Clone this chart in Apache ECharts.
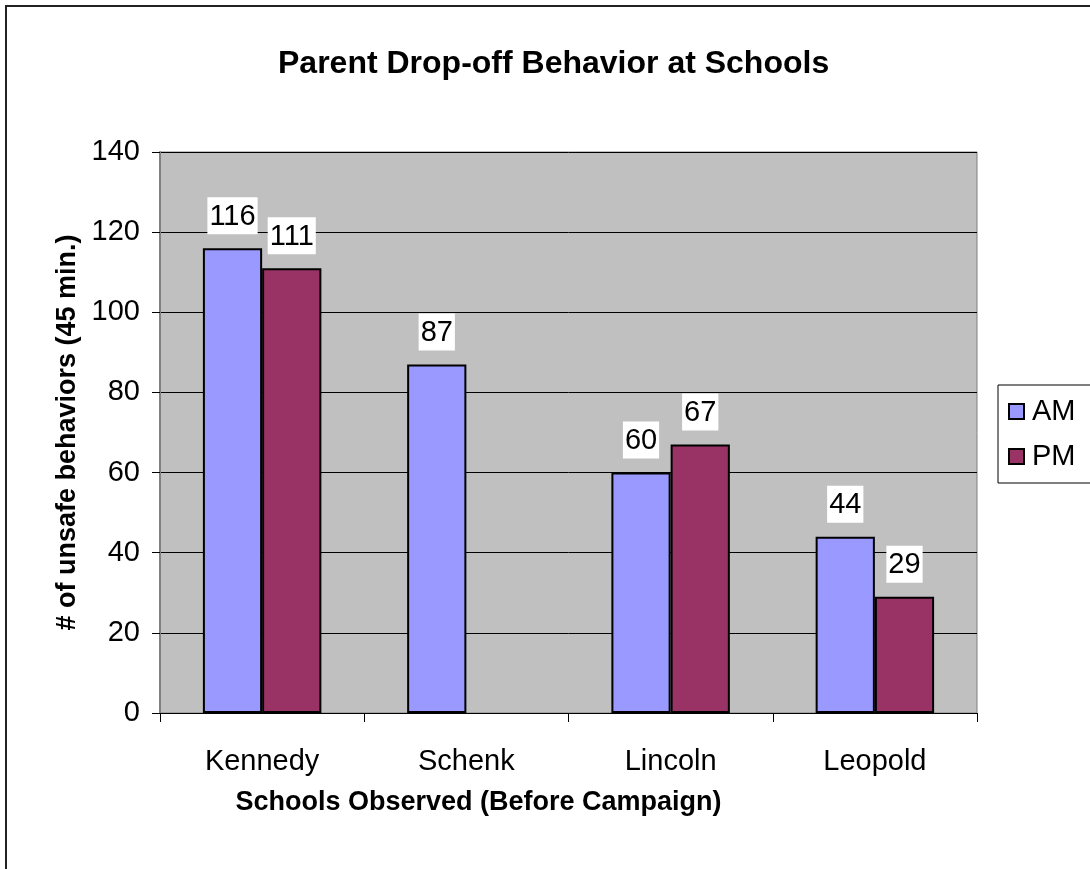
<!DOCTYPE html>
<html>
<head>
<meta charset="utf-8">
<script src="https://cdn.jsdelivr.net/npm/echarts@6/dist/echarts.min.js"></script>
<style>
html,body{margin:0;padding:0;background:#fff;}
#main{width:1090px;height:869px;}
</style>
</head>
<body>
<div id="main"></div>
<script>
var categories = ['Kennedy', 'Schenk', 'Lincoln', 'Leopold'];
var amValues = [116, 87, 60, 44];
var pmValues = [111, null, 67, 29];
var seriesNames = ['AM', 'PM'];
var titleText = 'Parent Drop-off Behavior at Schools';
var xAxisTitle = 'Schools Observed (Before Campaign)';
var yAxisTitle = '# of unsafe behaviors (45 min.)';

var chart = echarts.init(document.getElementById('main'));
var font = 'Arial, "Liberation Sans", sans-serif';
var labelStyle = {
  show: true, position: 'top', distance: 14,
  color: '#000', fontSize: 29, fontFamily: font,
  backgroundColor: '#fff', padding: [5, 2, 3, 2]
};
chart.setOption({
  animation: false,
  backgroundColor: '#fff',
  graphic: [{
    type: 'rect', shape: {x: 6, y: 6, width: 1200, height: 1000},
    style: {fill: 'none', stroke: '#222', lineWidth: 2}, z: 100
  }],
  title: {
    text: titleText, left: 273, top: 43,
    textStyle: {fontSize: 32, fontWeight: 'bold', color: '#000', fontFamily: font}
  },
  legend: {
    data: seriesNames, orient: 'vertical', left: 998, top: 385,
    padding: [12, 120, 12, 10], itemGap: 16,
    itemWidth: 15, itemHeight: 15, icon: 'rect',
    borderColor: '#000', borderWidth: 1, borderRadius: 0,
    textStyle: {fontSize: 29, color: '#000', fontFamily: font, padding: [0, 0, 0, 3]}
  },
  grid: {
    left: 160, top: 152, right: 113, bottom: 156,
    show: true, backgroundColor: '#C0C0C0', borderColor: '#808080', borderWidth: 1
  },
  xAxis: {
    type: 'category', data: categories,
    name: xAxisTitle, nameLocation: 'middle', nameGap: 76,
    nameTextStyle: {fontSize: 27, fontWeight: 'bold', color: '#000', fontFamily: font,
      padding: [0, 180, 0, 0]},
    axisLine: {lineStyle: {color: '#000', width: 1}},
    axisTick: {show: true, length: 9, lineStyle: {color: '#000'}},
    axisLabel: {fontSize: 29, color: '#000', fontFamily: font, margin: 34}
  },
  yAxis: {
    type: 'value', min: 0, max: 140, interval: 20,
    name: yAxisTitle, nameLocation: 'middle', nameGap: 50,
    nameTextStyle: {fontSize: 27, fontWeight: 'bold', color: '#000', fontFamily: font},
    axisLine: {show: true, lineStyle: {color: '#808080', width: 2}},
    axisTick: {show: true, length: 8, lineStyle: {color: '#000'}},
    axisLabel: {fontSize: 29, color: '#000', fontFamily: font, margin: 20},
    splitLine: {show: true, lineStyle: {color: '#000', width: 1}}
  },
  series: [{
    name: seriesNames[0], type: 'bar', data: amValues,
    barGap: '0%', barCategoryGap: '42%',
    itemStyle: {color: '#9999FF', borderColor: '#000', borderWidth: 2},
    label: labelStyle
  }, {
    name: seriesNames[1], type: 'bar', data: pmValues,
    barGap: '0%', barCategoryGap: '42%',
    itemStyle: {color: '#993366', borderColor: '#000', borderWidth: 2},
    label: labelStyle
  }]
});
</script>
</body>
</html>
